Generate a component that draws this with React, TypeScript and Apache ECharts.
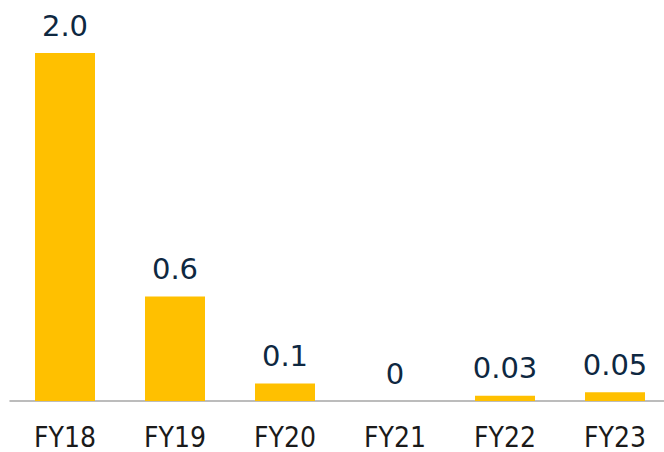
import React, { useEffect, useRef } from "react";
import * as echarts from "echarts";

const categories = ["FY18", "FY19", "FY20", "FY21", "FY22", "FY23"];
const values = [2.0, 0.6, 0.1, 0, 0.03, 0.05];
const valueLabels = ["2.0", "0.6", "0.1", "0", "0.03", "0.05"];

export default function App() {
  const ref = useRef<HTMLDivElement>(null);
  useEffect(() => {
    if (!ref.current) return;
    const chart = echarts.init(ref.current, null, { renderer: "svg" });
    chart.setOption({
      animation: false,
      backgroundColor: "#ffffff",
      grid: { left: 10, right: 0, top: 53, bottom: 51 },
      xAxis: {
        type: "category",
        data: categories,
        axisLine: { show: true, lineStyle: { color: "#A6A6A6", width: 1.5 } },
        axisTick: { show: false },
        axisLabel: {
          margin: 22,
          color: "#1a1a1a",
          fontFamily: "DejaVu Sans Condensed",
          fontSize: 28,
        },
      },
      yAxis: {
        type: "value",
        min: 0,
        max: 2,
        show: false,
        splitLine: { show: false },
      },
      series: [
        {
          type: "bar",
          data: values,
          barWidth: 60,
          itemStyle: { color: "#FFC000" },
          label: {
            show: true,
            position: "top",
            distance: 13,
            color: "#0E2841",
            fontFamily: "DejaVu Sans",
            fontSize: 29,
            formatter: (p: any) => valueLabels[p.dataIndex],
          },
        },
      ],
    });
    return () => chart.dispose();
  }, []);
  return (
    <div style={{ position: "absolute", left: 0, top: 0, width: 664, height: 452, overflow: "hidden" }}>
      <div ref={ref} style={{ width: 670, height: 452 }} />
    </div>
  );
}
